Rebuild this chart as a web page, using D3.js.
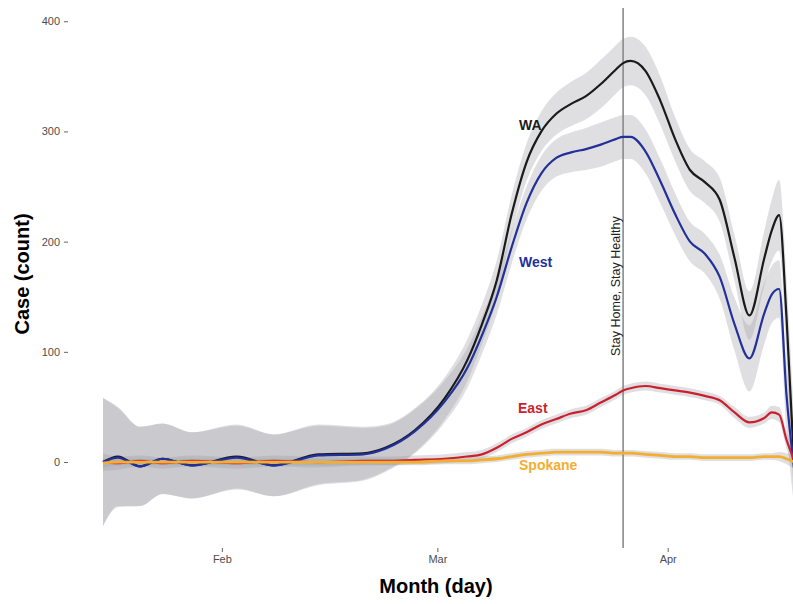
<!DOCTYPE html>
<html>
<head>
<meta charset="utf-8">
<script src="https://cdn.jsdelivr.net/npm/d3@7"></script>
<style>
  body { margin: 0; background: #fff; }
  svg { display: block; font-family: "Liberation Sans", Arial, sans-serif; }
</style>
</head>
<body>
<div id="chart"></div>
<script>
// Sample dates (2020) and smoothed counts
var dates = ["2020-01-16","2020-01-18","2020-01-21","2020-01-24","2020-01-28","2020-02-03","2020-02-08",
  "2020-02-14","2020-02-20","2020-02-23","2020-02-27","2020-03-02","2020-03-05","2020-03-07","2020-03-09",
  "2020-03-11","2020-03-13","2020-03-15","2020-03-17","2020-03-19","2020-03-21","2020-03-23","2020-03-25",
  "2020-03-26","2020-03-27","2020-03-29","2020-03-31","2020-04-02","2020-04-04","2020-04-06","2020-04-08",
  "2020-04-10","2020-04-12","2020-04-14","2020-04-15","2020-04-16","2020-04-17","2020-04-18"];

var wa      = [0,5,-4,3,-3,5,-3,7,8,13,29,58,92,125,165,225,272,300,316,325,332,343,356,362,364,355,328,293,265,254,238,185,133,185,210,224,130,0];
var west    = [0,4,-4,3,-3,4,-3,6,7,12,28,55,85,115,150,195,235,262,276,281,284,288,293,295,295,282,255,225,200,189,168,125,94,135,152,157,60,-5];
var east    = [0,-1,1,-1,1,-1,1,0,1,1,2,3,5,7,13,21,27,34,39,44,47,54,61,65,67,69,67,65,63,60,56,45,36,40,45,43,20,2];
var spokane = [-1,0,0,0,0,0,0,0,0,0,0,1,1,2,3,5,7,8,9,9,9,9,8,8,8,7,6,5,5,4,4,4,4,5,5,5,3,0];

// half-widths of the confidence bands
var waSe      = [58,45,36,32,30,29,28,27,24,21,20,19,19,18,18,17,17,18,19,20,21,22,22,22,22,22,22,20,19,19,20,21,22,25,28,32,35,40];
var westSe    = [58,45,36,32,30,29,28,27,24,21,20,19,18,17,16,15,15,16,17,18,19,20,20,20,20,20,20,19,18,18,20,24,30,28,26,26,30,35];
var eastSe    = [8,6,5,5,5,5,5,5,4,4,4,4,4,4,4,4,4,4,4,4,4,4,4,4,4,4,4,4,4,4,4,5,5,5,6,7,8,10];
var spokaneSe = [4,3,3,3,3,3,3,3,3,3,3,3,3,3,3,3,3,3,3,3,3,3,3,3,3,3,3,3,3,3,3,3,3,3,3,4,5,6];

var seriesNames  = ["WA", "West", "East", "Spokane"];
var seriesColors = ["#1a1a1a", "#22309a", "#cc1f2e", "#f4ae2f"];
var yTicks = [0, 100, 200, 300, 400];
var xTicks = ["2020-02-01", "2020-03-01", "2020-04-01"];
var orderDate = "2020-03-26";

var parse = d3.timeParse("%Y-%m-%d");
var values = [wa, west, east, spokane];
var ses = [waSe, westSe, eastSe, spokaneSe];

var series = seriesNames.map(function(name, i) {
  return {
    name: name,
    color: seriesColors[i],
    points: dates.map(function(d, j) {
      return { date: parse(d), v: values[i][j], se: ses[i][j] };
    })
  };
});

var width = 793, height = 604;
var panel = { top: 8, bottom: 548, left: 68 };

var svg = d3.select("#chart").append("svg")
  .attr("width", width)
  .attr("height", height);

var x = d3.scaleTime()
  .domain([parse("2020-01-16"), parse("2020-04-18")])
  .range([103, 794]);

var y = d3.scaleLinear()
  .domain([-78, 412])
  .range([panel.bottom, panel.top]);

// Confidence ribbons
var area = d3.area()
  .curve(d3.curveMonotoneX)
  .x(function(d) { return x(d.date); })
  .y0(function(d) { return y(d.v - d.se); })
  .y1(function(d) { return y(d.v + d.se); });

svg.selectAll(".ribbon")
  .data(series)
  .enter()
  .append("path")
  .attr("class", "ribbon")
  .attr("d", function(d) { return area(d.points); })
  .attr("fill", "#9c9ca4")
  .attr("fill-opacity", 0.32);

// Stay Home order line
svg.append("line")
  .attr("x1", x(parse(orderDate)))
  .attr("x2", x(parse(orderDate)))
  .attr("y1", panel.top)
  .attr("y2", panel.bottom)
  .attr("stroke", "#8a8a8a")
  .attr("stroke-width", 1.6);

svg.append("text")
  .attr("transform", "translate(" + (x(parse(orderDate)) - 3) + ",356) rotate(-90)")
  .attr("font-size", 12.5)
  .attr("fill", "#222")
  .text("Stay Home, Stay Healthy");

// Smoothed lines
var line = d3.line()
  .curve(d3.curveMonotoneX)
  .x(function(d) { return x(d.date); })
  .y(function(d) { return y(d.v); });

svg.selectAll(".series")
  .data(series)
  .enter()
  .append("path")
  .attr("class", "series")
  .attr("d", function(d) { return line(d.points); })
  .attr("fill", "none")
  .attr("stroke", function(d) { return d.color; })
  .attr("stroke-width", function(d) { return d.name === "Spokane" ? 2.8 : 2.2; });

// Series labels
var labelPos = [
  { x: 519, v: 306 },
  { x: 519, v: 181 },
  { x: 518, v: 49 },
  { x: 519, v: -3 }
];
svg.selectAll(".label")
  .data(series)
  .enter()
  .append("text")
  .attr("class", "label")
  .attr("x", function(d, i) { return labelPos[i].x; })
  .attr("y", function(d, i) { return y(labelPos[i].v); })
  .attr("dy", "0.35em")
  .attr("font-size", 14)
  .attr("font-weight", "bold")
  .attr("fill", function(d) { return d.color; })
  .text(function(d) { return d.name; });

// Axes
var yAxis = svg.append("g")
  .attr("transform", "translate(" + panel.left + ",0)")
  .call(d3.axisLeft(y).tickValues(yTicks).tickSize(4).tickPadding(4));

var xAxis = svg.append("g")
  .attr("transform", "translate(0," + panel.bottom + ")")
  .call(d3.axisBottom(x).tickValues(xTicks.map(parse)).tickFormat(d3.timeFormat("%b")).tickSize(4).tickPadding(3));

[yAxis, xAxis].forEach(function(ax) {
  ax.select(".domain").remove();
  ax.selectAll("line").attr("stroke", "#666");
  ax.selectAll("text").attr("fill", "#4d4d4d").attr("font-size", 11)
    .style("font-family", "'Liberation Sans', Arial, sans-serif");
});

// Axis titles
svg.append("text")
  .attr("x", 436)
  .attr("y", 593)
  .attr("text-anchor", "middle")
  .attr("font-size", 20)
  .attr("font-weight", "bold")
  .attr("fill", "#000")
  .text("Month (day)");

svg.append("text")
  .attr("transform", "translate(29,274) rotate(-90)")
  .attr("text-anchor", "middle")
  .attr("font-size", 20)
  .attr("font-weight", "bold")
  .attr("fill", "#000")
  .text("Case (count)");
</script>
</body>
</html>
